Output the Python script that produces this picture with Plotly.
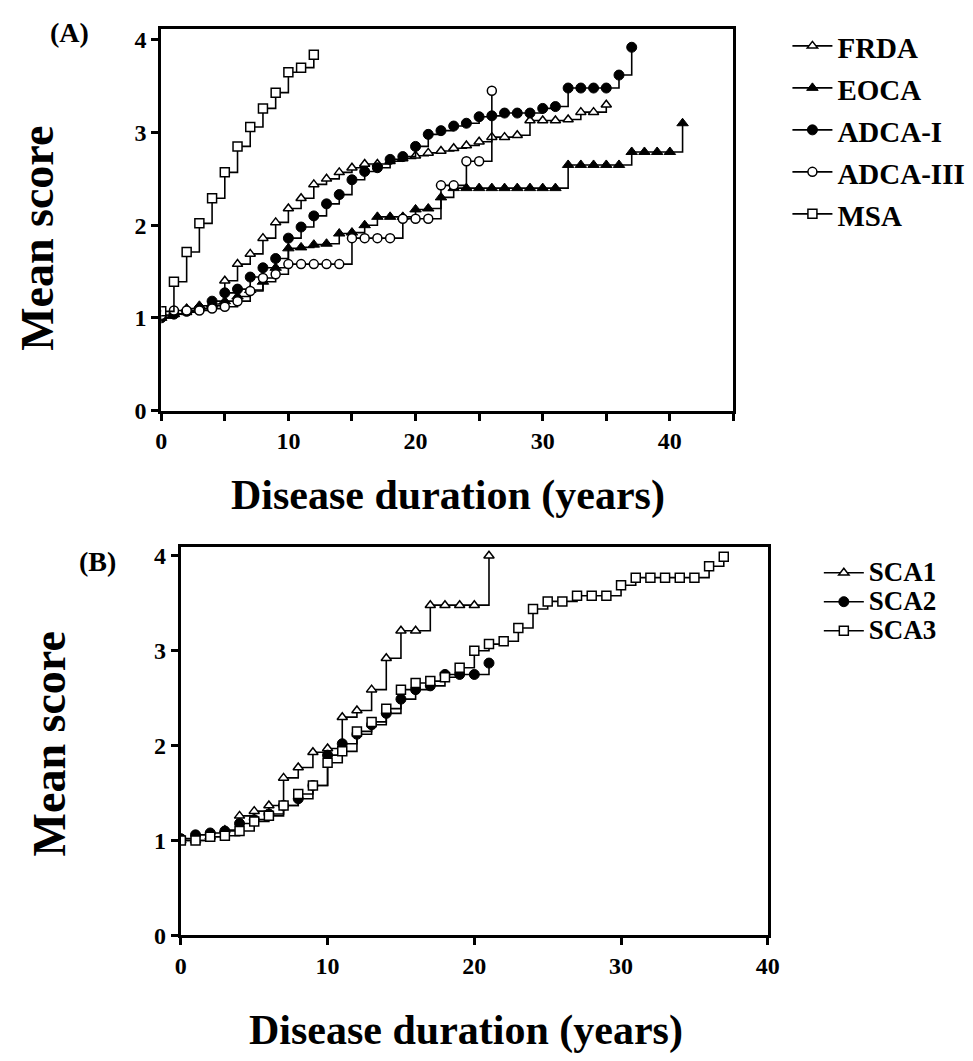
import plotly.graph_objects as go

YEARS = [0, 1, 2, 3, 4, 5, 6, 7, 8, 9, 10, 11, 12, 13, 14, 15, 16, 17, 18, 19, 20,
         21, 22, 23, 24, 25, 26, 27, 28, 29, 30, 31, 32, 33, 34, 35, 36, 37, 38, 39, 40, 41]

# ---- Panel A ----
frda = [1.02, 1.04, 1.06, 1.10, 1.13, 1.40, 1.58, 1.69, 1.86, 2.03, 2.18, 2.29, 2.44, 2.50,
        2.57, 2.62, 2.66, 2.66, 2.69, 2.72, 2.75, 2.78, 2.80, 2.83, 2.86, 2.90, 2.95, 2.95,
        2.97, 3.13, 3.13, 3.13, 3.14, 3.22, 3.22, 3.30]
eoca = [1.00, 1.04, 1.10, 1.13, 1.15, 1.18, 1.23, 1.30, 1.39, 1.54, 1.75, 1.76, 1.79, 1.80,
        1.91, 1.92, 2.00, 2.09, 2.09, 2.09, 2.17, 2.18, 2.30, 2.40, 2.40, 2.40, 2.40, 2.40,
        2.40, 2.40, 2.40, 2.40, 2.65, 2.65, 2.65, 2.65, 2.65, 2.79, 2.79, 2.79, 2.79, 3.10]
adca1 = [1.00, 1.04, 1.07, 1.10, 1.18, 1.27, 1.31, 1.44, 1.54, 1.64, 1.86, 1.98, 2.10, 2.23,
         2.33, 2.49, 2.58, 2.62, 2.71, 2.74, 2.85, 2.98, 3.02, 3.07, 3.10, 3.17, 3.18, 3.21,
         3.21, 3.21, 3.26, 3.28, 3.48, 3.48, 3.48, 3.48, 3.62, 3.92]
adca3 = [1.03, 1.08, 1.08, 1.08, 1.10, 1.12, 1.18, 1.29, 1.43, 1.47, 1.58, 1.58, 1.58, 1.58,
         1.58, 1.86, 1.86, 1.86, 1.86, 2.07, 2.07, 2.07, 2.43, 2.43, 2.69, 2.69, 3.45]
msa = [1.07, 1.39, 1.71, 2.02, 2.29, 2.57, 2.85, 3.06, 3.26, 3.43, 3.65, 3.70, 3.84]

# ---- Panel B ----
sca1 = [1.00, 1.00, 1.04, 1.11, 1.26, 1.31, 1.37, 1.66, 1.77, 1.93, 1.97, 2.30, 2.37, 2.59,
        2.92, 3.21, 3.21, 3.48, 3.48, 3.48, 3.48, 4.00]
sca2 = [1.02, 1.06, 1.08, 1.10, 1.18, 1.22, 1.28, 1.37, 1.44, 1.58, 1.90, 2.02, 2.12, 2.22,
        2.34, 2.49, 2.59, 2.63, 2.75, 2.75, 2.75, 2.87]
sca3 = [1.00, 1.00, 1.04, 1.05, 1.10, 1.20, 1.26, 1.37, 1.49, 1.58, 1.82, 1.94, 2.15, 2.25,
        2.39, 2.59, 2.66, 2.68, 2.72, 2.82, 3.00, 3.07, 3.10, 3.24, 3.44, 3.52, 3.52, 3.58,
        3.58, 3.58, 3.69, 3.77, 3.77, 3.77, 3.77, 3.77, 3.89, 3.99]

X_TICKS = [0, 10, 20, 30, 40]
Y_TICKS = [0, 1, 2, 3, 4]

FONT = "Liberation Serif"
W, H = 973, 1061

OPEN_TRI = dict(symbol="triangle-up", color="white", size=9, line=dict(color="black", width=1.5))
FILL_TRI = dict(symbol="triangle-up", color="black", size=10, line=dict(color="black", width=1))
FILL_CIR = dict(symbol="circle", color="black", size=10, line=dict(color="black", width=1))
OPEN_CIR = dict(symbol="circle", color="white", size=9, line=dict(color="black", width=1.5))
OPEN_SQ = dict(symbol="square", color="white", size=9, line=dict(color="black", width=1.5))

fig = go.Figure()

def add(label, vals, marker, xa, ya, legend):
    fig.add_trace(go.Scatter(
        x=YEARS[:len(vals)], y=vals, name=label, mode="lines+markers",
        line=dict(color="black", width=1.6, shape="hv"),
        marker=marker, xaxis=xa, yaxis=ya, legend=legend))

spanA = '<span style="font-size:29px">%s</span>'
add(spanA % "FRDA", frda, OPEN_TRI, "x", "y", "legend")
add(spanA % "EOCA", eoca, FILL_TRI, "x", "y", "legend")
add(spanA % "ADCA-I", adca1, FILL_CIR, "x", "y", "legend")
add(spanA % "ADCA-III", adca3, OPEN_CIR, "x", "y", "legend")
add(spanA % "MSA", msa, OPEN_SQ, "x", "y", "legend")

spanB = '<span style="font-size:27px">%s</span>'
add(spanB % "SCA1", sca1, OPEN_TRI, "x2", "y2", "legend2")
add(spanB % "SCA2", sca2, FILL_CIR, "x2", "y2", "legend2")
add(spanB % "SCA3", sca3, OPEN_SQ, "x2", "y2", "legend2")

tickfont = dict(family=FONT, size=24, color="black", weight="bold")
axis_common = dict(showgrid=False, zeroline=False, showline=True, linecolor="black",
                   linewidth=3, mirror=True, ticks="outside", ticklen=7, tickwidth=2.5,
                   tickcolor="black", tickfont=tickfont)

fig.update_layout(
    width=W, height=H, margin=dict(l=0, r=0, t=0, b=0),
    paper_bgcolor="white", plot_bgcolor="white",
    xaxis=dict(domain=[150 / W, 733 / W], range=[0, 45], tickvals=X_TICKS,
               minor=dict(dtick=5, ticks="outside", ticklen=7, tickwidth=2.5, tickcolor="black"),
               anchor="y", **axis_common),
    yaxis=dict(domain=[(H - 405) / H, (H - 17) / H], range=[0, 4.12], tickvals=Y_TICKS,
               anchor="x", **axis_common),
    xaxis2=dict(domain=[170 / W, 768 / W], range=[0, 40], tickvals=X_TICKS,
                anchor="y2", **axis_common),
    yaxis2=dict(domain=[(H - 938.5) / H, (H - 544) / H], range=[0, 4.09], tickvals=Y_TICKS,
                anchor="x2", **axis_common),
    legend=dict(x=788 / W, y=1 - 8 / H, xanchor="left", yanchor="top",
                font=dict(family=FONT, size=30, color="black", weight="bold"),
                bgcolor="rgba(0,0,0,0)", itemwidth=40, tracegroupgap=0),
    legend2=dict(x=820 / W, y=1 - 550 / H, xanchor="left", yanchor="top",
                 font=dict(family=FONT, size=20, color="black", weight="bold"),
                 bgcolor="rgba(0,0,0,0)", itemwidth=40, tracegroupgap=0),
    showlegend=True,
)

title_font = dict(family=FONT, size=42, color="black", weight="bold")
ylab_font = dict(family=FONT, size=46, color="black", weight="bold")
panel_font = dict(family=FONT, size=28, color="black", weight="bold")

annots = [
    dict(text="Disease duration (years)", x=442 / W, y=1 - 491 / H, font=title_font),
    dict(text="Disease duration (years)", x=461 / W, y=1 - 1035 / H, font=title_font),
    dict(text="Mean score", x=24 / W, y=1 - 230 / H, font=ylab_font, textangle=-90),
    dict(text="Mean score", x=36 / W, y=1 - 744 / H, font=ylab_font, textangle=-90),
    dict(text="(A)", x=57 / W, y=1 - 21 / H, font=panel_font),
    dict(text="(B)", x=85 / W, y=1 - 558 / H, font=panel_font),
]
for a in annots:
    fig.add_annotation(xref="paper", yref="paper", xanchor="center", yanchor="middle",
                       showarrow=False, **a)

fig.write_html("out.html")
